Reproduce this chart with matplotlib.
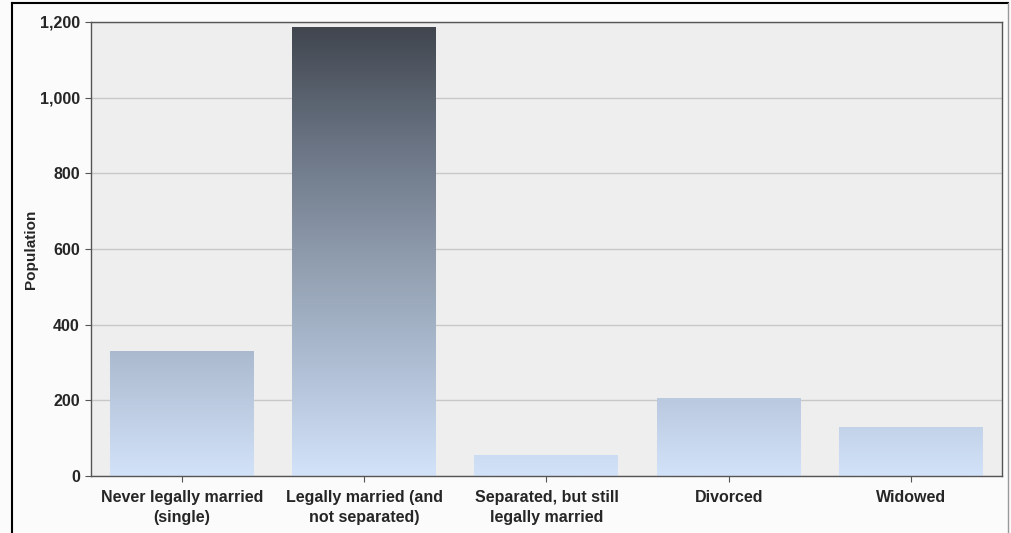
import numpy as np
import matplotlib
matplotlib.use('Agg')
import matplotlib.pyplot as plt
from matplotlib.colors import LinearSegmentedColormap
from matplotlib.lines import Line2D

categories = ['Never legally married\n(single)', 'Legally married (and\nnot separated)',
              'Separated, but still\nlegally married', 'Divorced', 'Widowed']
population = [330, 1184, 54, 205, 128]
yticks = [0, 200, 400, 600, 800, 1000, 1200]

plt.rcParams['font.family'] = ['Liberation Sans', 'DejaVu Sans']
txt = '#262626'

cmap = LinearSegmentedColormap.from_list('barfade', [
    (0.0, '#d2e2f8'), (0.25, '#aebdd2'), (0.5, '#8c99aa'),
    (0.75, '#677180'), (1.0, '#3f444c')])

fig = plt.figure(figsize=(10.11, 5.33), dpi=100, facecolor='#fbfbfb')
ax = fig.add_axes([0.090, 0.107, 0.901, 0.852])
ax.set_facecolor('#eeeeee')

ymax = 1200
width = 0.79
x = np.arange(len(categories))
for xi, v in zip(x, population):
    grad = np.linspace(0, v / ymax, 256).reshape(-1, 1)
    ax.imshow(grad, cmap=cmap, vmin=0, vmax=1, origin='lower', aspect='auto',
              extent=[xi - width / 2, xi + width / 2, 0, v], zorder=2,
              interpolation='bilinear')

ax.set_xlim(-0.5, len(categories) - 0.5)
ax.set_ylim(0, ymax)
ax.set_yticks(yticks)
ax.set_yticklabels([f'{t:,}' for t in yticks])
ax.set_xticks(x)
ax.set_xticklabels(categories, linespacing=1.45)
ax.yaxis.grid(True, color='#c8c8c8', linewidth=1)
ax.set_axisbelow(True)

for s in ax.spines.values():
    s.set_color('#555555')
    s.set_linewidth(1)

ax.tick_params(axis='both', direction='out', length=4, color='#555555',
               labelsize=11.5, labelcolor=txt, pad=4)
ax.tick_params(axis='x', pad=6)
for lab in ax.get_xticklabels() + ax.get_yticklabels():
    lab.set_fontweight('bold')
ax.set_ylabel('Population', fontsize=11, fontweight='bold', color=txt, labelpad=1)

# outer frame
fig.add_artist(Line2D([12 / 1011, 12 / 1011], [0, 1 - 3 / 533], transform=fig.transFigure,
                      color='black', linewidth=1.5))
fig.add_artist(Line2D([12 / 1011, 1008 / 1011], [1 - 3 / 533, 1 - 3 / 533],
                      transform=fig.transFigure, color='black', linewidth=1.5))
fig.add_artist(Line2D([1008 / 1011, 1008 / 1011], [0, 1 - 3 / 533], transform=fig.transFigure,
                      color='#999999', linewidth=1))

fig.savefig('out.png', dpi=100, facecolor=fig.get_facecolor())
